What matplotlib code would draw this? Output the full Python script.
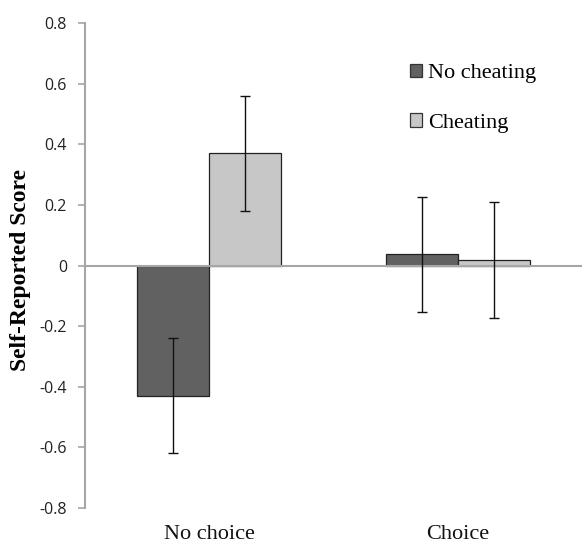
import matplotlib
matplotlib.use("Agg")
import matplotlib.pyplot as plt
import numpy as np

categories = ["No choice", "Choice"]
series_names = ["No cheating", "Cheating"]
no_cheating = [-0.43, 0.037]
cheating = [0.37, 0.018]
no_cheating_err = [0.19, 0.19]
cheating_err = [0.19, 0.19]
yticks = [-0.8, -0.6, -0.4, -0.2, 0, 0.2, 0.4, 0.6, 0.8]
ytick_labels = ["-0.8", "-0.6", "-0.4", "-0.2", "0", "0.2", "0.4", "0.6", "0.8"]

fig = plt.figure(figsize=(5.82, 5.44), dpi=100)
ax = fig.add_axes([85/582, 36/544, 497/582, 485/544])

x = np.arange(len(categories))
w = 0.29
axis_gray = "#A6A6A6"
b1 = ax.bar(x - w/2, no_cheating, w, color="#616161", edgecolor="#222222", linewidth=0.9,
            label=series_names[0], zorder=2)
b2 = ax.bar(x + w/2, cheating, w, color="#C7C7C7", edgecolor="#222222", linewidth=0.9,
            label=series_names[1], zorder=2)
ax.errorbar(x - w/2, no_cheating, yerr=no_cheating_err, fmt="none", ecolor="#111111",
            elinewidth=1.0, capsize=3.3, capthick=1.0, zorder=4)
ax.errorbar(x + w/2, cheating, yerr=cheating_err, fmt="none", ecolor="#111111",
            elinewidth=1.0, capsize=3.3, capthick=1.0, zorder=4)

ax.axhline(0, color=axis_gray, linewidth=1.5, zorder=3)
ax.set_xlim(-0.5, 1.5)
ax.set_ylim(-0.8, 0.8)
ax.set_yticks(yticks)
ax.set_yticklabels(ytick_labels, fontfamily="Open Sans", fontsize=11.5, color="#222222")
ax.set_xticks(x)
ax.set_xticklabels(categories, fontfamily="Liberation Serif", fontsize=16, color="#111111")
ax.tick_params(axis="x", length=0, pad=12)
ax.tick_params(axis="y", length=5, width=1.2, color=axis_gray, pad=8, direction="out")
for s in ["top", "right", "bottom"]:
    ax.spines[s].set_visible(False)
ax.spines["left"].set_color(axis_gray)
ax.spines["left"].set_linewidth(1.5)

ax.set_ylabel("Self-Reported Score", fontfamily="Liberation Serif", fontweight="bold",
              fontsize=17)
ax.yaxis.set_label_coords(-0.1087, 0.49)

leg = ax.legend(handles=[b1, b2], loc="upper left", bbox_to_anchor=(0.654, 0.916),
                frameon=False, handlelength=0.55, handleheight=0.55, handletextpad=0.25,
                labelspacing=1.35, borderpad=0, borderaxespad=0,
                prop={"family": "Liberation Serif", "size": 16})
for h in leg.legend_handles:
    h.set_edgecolor("#333333")

fig.savefig("out.png", dpi=100)
